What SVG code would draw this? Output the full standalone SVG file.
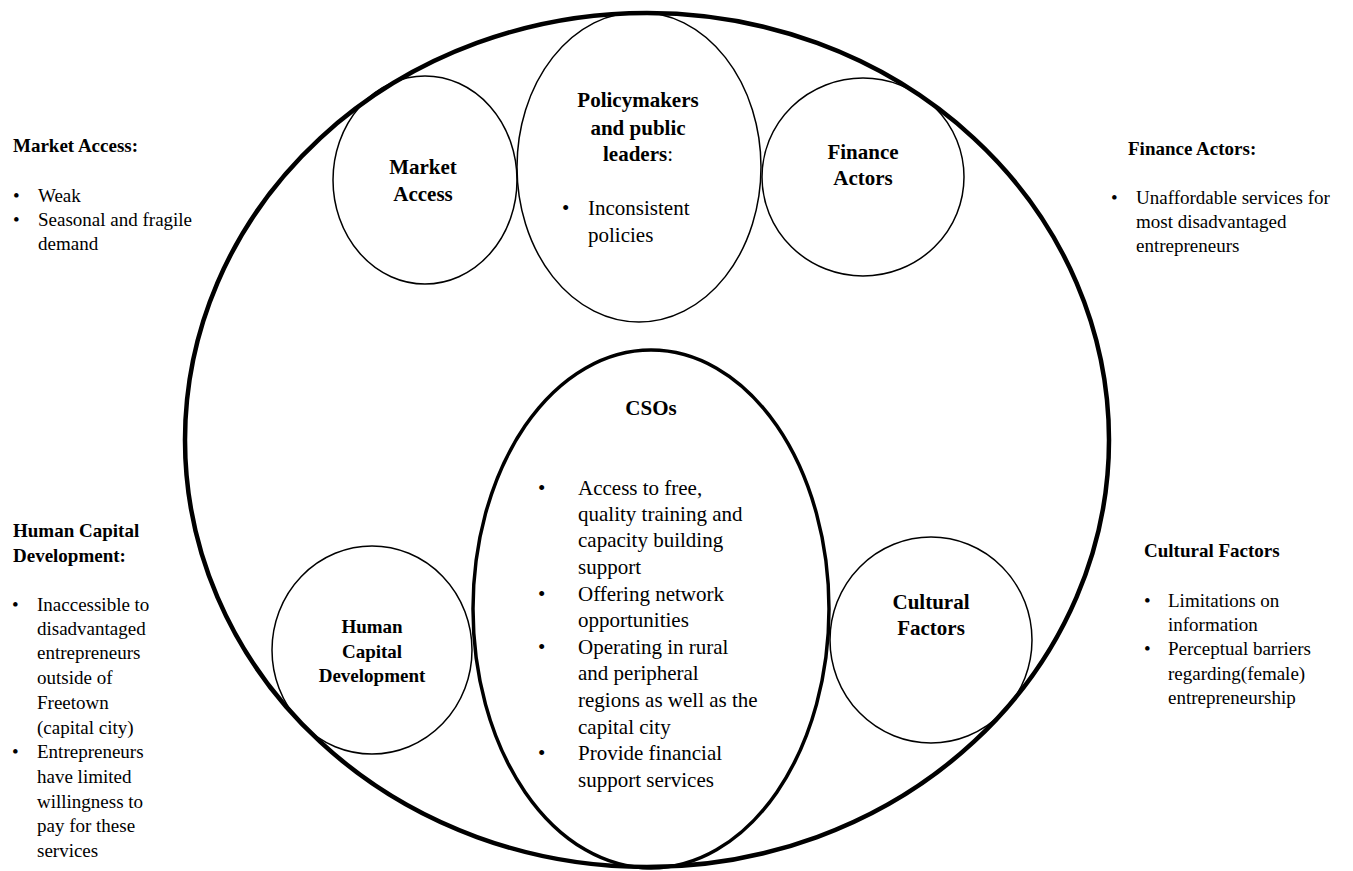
<svg xmlns="http://www.w3.org/2000/svg" width="1353" height="871" viewBox="0 0 1353 871">
<style>
.t{font-family:"Liberation Serif","Times New Roman",serif;fill:#000;}
.b{font-weight:bold;}
.s19{font-size:19px;}
.s21{font-size:21px;}
.c{text-anchor:middle;}
.thin{fill:none;stroke:#000;stroke-width:1.5;}
.thick{fill:none;stroke:#000;stroke-width:3.5;}
.outer{fill:none;stroke:#000;stroke-width:4.5;}
</style>
<rect width="1353" height="871" fill="#fff"/>
<g id="ecosystem">
<ellipse class="outer" cx="647" cy="440" rx="462" ry="427"/>
</g>
<g id="market-access">
<ellipse class="thin" cx="425" cy="180" rx="92" ry="104"/>
<text class="t b s21 c" x="423" y="174">Market</text>
<text class="t b s21 c" x="423" y="201">Access</text>
</g>
<g id="policymakers">
<ellipse class="thin" cx="639" cy="167" rx="122" ry="155"/>
<text class="t b s21 c" x="638" y="107">Policymakers</text>
<text class="t b s21 c" x="638" y="135">and public</text>
<text class="t b s21 c" x="638" y="161">leaders<tspan font-weight="normal">:</tspan></text>
<text class="t s21" x="562" y="215">•</text>
<text class="t s21" x="588" y="215">Inconsistent</text>
<text class="t s21" x="588" y="242">policies</text>
</g>
<g id="finance-actors">
<ellipse class="thin" cx="863" cy="177" rx="101" ry="99"/>
<text class="t b s21 c" x="863" y="159">Finance</text>
<text class="t b s21 c" x="863" y="185">Actors</text>
</g>
<g id="csos">
<ellipse class="thick" cx="651" cy="609" rx="178" ry="259"/>
<text class="t b s21 c" x="651" y="415">CSOs</text>
<g class="t s21">
<text x="538" y="495">•</text>
<text x="578" y="495">Access to free,</text>
<text x="578" y="521">quality training and</text>
<text x="578" y="547">capacity building</text>
<text x="578" y="574">support</text>
<text x="538" y="601">•</text>
<text x="578" y="601">Offering network</text>
<text x="578" y="627">opportunities</text>
<text x="538" y="654">•</text>
<text x="578" y="654">Operating in rural</text>
<text x="578" y="680">and peripheral</text>
<text x="578" y="707">regions as well as the</text>
<text x="578" y="734">capital city</text>
<text x="538" y="760">•</text>
<text x="578" y="760">Provide financial</text>
<text x="578" y="787">support services</text>
</g>
</g>
<g id="human-capital">
<ellipse class="thin" cx="372" cy="650" rx="100" ry="104"/>
<text class="t b s19 c" x="372" y="633">Human</text>
<text class="t b s19 c" x="372" y="658">Capital</text>
<text class="t b s19 c" x="372" y="682">Development</text>
</g>
<g id="cultural-factors">
<ellipse class="thin" cx="931" cy="640" rx="101" ry="103"/>
<text class="t b s21 c" x="931" y="609">Cultural</text>
<text class="t b s21 c" x="931" y="635">Factors</text>
</g>
<g id="note-market-access" class="t s19">
<text class="b" x="13" y="152">Market Access:</text>
<text x="13" y="202">•</text><text x="38" y="202">Weak</text>
<text x="13" y="226">•</text><text x="38" y="226">Seasonal and fragile</text>
<text x="38" y="250">demand</text>
</g>
<g id="note-finance-actors" class="t s19">
<text class="b" x="1128" y="155">Finance Actors:</text>
<text x="1111" y="204">•</text><text x="1136" y="204">Unaffordable services for</text>
<text x="1136" y="228">most disadvantaged</text>
<text x="1136" y="252">entrepreneurs</text>
</g>
<g id="note-human-capital" class="t s19">
<text class="b" x="13" y="537">Human Capital</text>
<text class="b" x="13" y="562">Development:</text>
<text x="12" y="611">•</text><text x="37" y="611">Inaccessible to</text>
<text x="37" y="635">disadvantaged</text>
<text x="37" y="659">entrepreneurs</text>
<text x="37" y="684">outside of</text>
<text x="37" y="709">Freetown</text>
<text x="37" y="734">(capital city)</text>
<text x="12" y="758">•</text><text x="37" y="758">Entrepreneurs</text>
<text x="37" y="783">have limited</text>
<text x="37" y="808">willingness to</text>
<text x="37" y="832">pay for these</text>
<text x="37" y="857">services</text>
</g>
<g id="note-cultural-factors" class="t s19">
<text class="b" x="1144" y="557">Cultural Factors</text>
<text x="1144" y="607">•</text><text x="1168" y="607">Limitations on</text>
<text x="1168" y="631">information</text>
<text x="1144" y="655">•</text><text x="1168" y="655">Perceptual barriers</text>
<text x="1168" y="680">regarding(female)</text>
<text x="1168" y="704">entrepreneurship</text>
</g>
</svg>
